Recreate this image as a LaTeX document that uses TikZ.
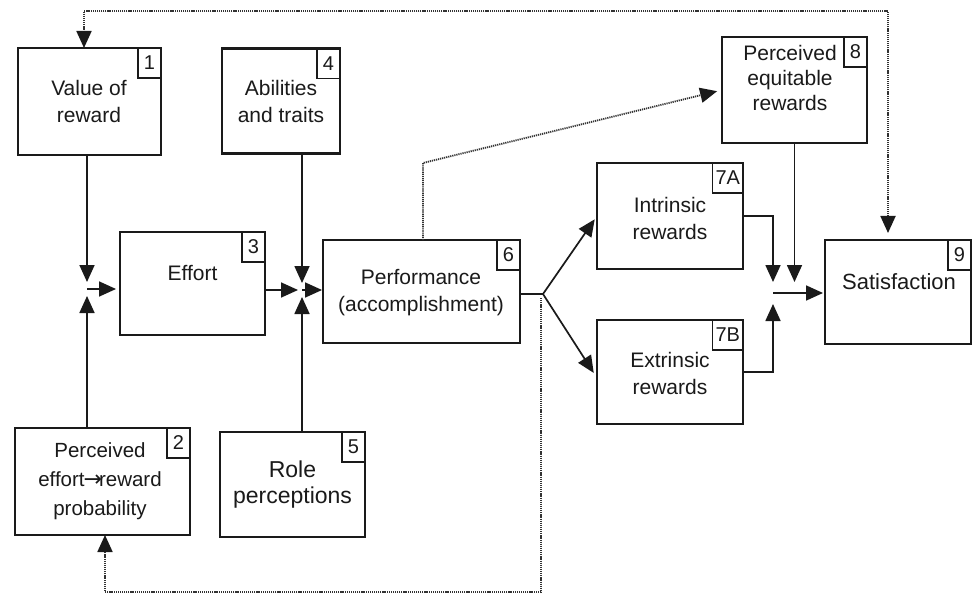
\documentclass[tikz,border=0pt]{standalone}
\usepackage{fontspec}
\setmainfont{Liberation Sans}
\newfontfamily\arrowglyph{DejaVu Sans}
\usetikzlibrary{arrows.meta}
\definecolor{ink}{HTML}{1A1A1A}
\definecolor{dotink}{HTML}{333333}
\begin{document}
\begin{tikzpicture}[x=1pt,y=-1pt,
  box/.style={draw=ink, line width=2.3pt, inner sep=0pt, outer sep=0pt},
  lbl/.style={align=center, text=ink, font=\fontsize{21}{27}\selectfont},
  num/.style={draw=ink, line width=1.7pt, anchor=north east, outer sep=0pt,
    minimum width=23pt, minimum height=30pt, inner xsep=3pt, inner ysep=0pt,
    text=ink, font=\fontsize{20}{20}\selectfont},
  tip/.style={-{Triangle[length=17pt,width=15pt,color=ink]}},
  flow/.style={draw=ink, line width=1.7pt, tip},
  link/.style={draw=ink, line width=1.7pt},
  fb/.style={draw=dotink, line width=1.8pt, dash pattern=on 1.2pt off 0.9pt},
]
\useasboundingbox (0,0) rectangle (977,596);
\fill[white] (0,0) rectangle (977,596);

% boxes
\node[box, minimum width=143pt, minimum height=107pt] (b1) at (89.5,101.5) {};
\node[box, minimum width=118pt, minimum height=105pt] (b4) at (281,101) {};
\node[box, minimum width=145pt, minimum height=103pt] (b3) at (192.5,283.5) {};
\node[box, minimum width=197pt, minimum height=103pt] (b6) at (421.5,291.5) {};
\node[box, minimum width=175pt, minimum height=107pt] (b2) at (102.5,481.5) {};
\node[box, minimum width=145pt, minimum height=105pt] (b5) at (292.5,484.5) {};
\node[box, minimum width=145pt, minimum height=106pt] (b8) at (794.5,90) {};
\node[box, minimum width=146pt, minimum height=106pt] (b7a) at (670,216) {};
\node[box, minimum width=146pt, minimum height=104pt] (b7b) at (670,372) {};
\node[box, minimum width=146pt, minimum height=104pt] (b9) at (898,292) {};

% box texts
\node[lbl] (t1) at (89,101) {Value of\\reward};
\node[lbl] (t4) at (281,101) {Abilities\\and traits};
\node[lbl] (t3) at (192.5,273) {Effort};
\node[lbl] (t6) at (421,293) {Performance\\(accomplishment)};
\node[lbl, font=\fontsize{20.5}{29}\selectfont] (t2) at (100,481)
  {Perceived\\effort\kern-1pt{\arrowglyph\fontsize{22}{22}\selectfont→}\kern-3pt reward\\probability};
\node[lbl, font=\fontsize{23}{26}\selectfont] (t5) at (292.5,485) {Role\\perceptions};
\node[lbl, font=\fontsize{21}{25}\selectfont] (t8) at (790,78) {Perceived\\equitable\\rewards};
\node[lbl] (t7a) at (670,218) {Intrinsic\\rewards};
\node[lbl] (t7b) at (670,373) {Extrinsic\\rewards};
\node[lbl, font=\fontsize{22}{26}\selectfont] (t9) at (899,282) {Satisfaction};

% number tags
\node[num] (n1) at (b1.north east) {1};
\node[num] (n2) at (b2.north east) {2};
\node[num] (n3) at (b3.north east) {3};
\node[num] (n4) at (b4.north east) {4};
\node[num] (n5) at (b5.north east) {5};
\node[num] (n6) at (b6.north east) {6};
\node[num] (n7a) at (b7a.north east) {7A};
\node[num] (n7b) at (b7b.north east) {7B};
\node[num] (n8) at (b8.north east) {8};
\node[num] (n9) at (b9.north east) {9};

% junction before effort
\coordinate (j1) at (87,289);
\coordinate (j1n) at (87,282);
\coordinate (j1s) at (87,296);
\draw[flow] (b1.south -| j1) -- (j1n);
\draw[flow] (b2.north -| j1) -- (j1s);
\draw[flow, shorten >=4pt] (j1) -- (b3.west |- j1);

% junction before performance
\coordinate (j2) at (302,290);
\coordinate (j2n) at (302,283);
\coordinate (j2s) at (302,297);
\coordinate (j2w) at (298,290);
\draw[flow] (b4.south -| j2) -- (j2n);
\draw[flow] (b5.north -| j2) -- (j2s);
\draw[flow] (b3.east |- j2) -- (j2w);
\draw[flow, shorten >=1pt] (j2) -- (b6.west |- j2);

% performance splits into rewards
\coordinate (s6) at (543,294);
\draw[link] (b6.east |- s6) -- (s6);
\draw[flow, shorten >=4pt] (s6) -- (b7a.west);
\draw[flow, shorten >=6pt] (s6) -- ([yshift=-6pt]b7b.west);

% junction before satisfaction
\coordinate (j3) at (773,293);
\coordinate (j3n) at (773,282);
\coordinate (j3s) at (773,304);
\draw[flow] (b7a.east) -| (j3n);
\draw[flow] (b7b.east) -| (j3s);
\draw[flow] (b8.south) -- (b8.south |- j3n);
\draw[flow, shorten >=2pt] (j3) -- (b9.west |- j3);

% dotted feedback loops
\coordinate (fr) at (888,11);
\coordinate (fl) at (84,11);
\draw[fb, {Triangle[length=17pt,width=15pt,color=ink]}-{Triangle[length=17pt,width=15pt,color=ink]}, shorten <=7pt]
  (b9.north -| fr) -- (fr) -- (fl) -- (b1.north -| fl);

\coordinate (p6) at (423,163);
\draw[fb, tip, shorten >=5pt] (b6.north -| p6) -- (p6) -- (b8.west);

\coordinate (q1) at (541,592);
\coordinate (q2) at (105,592);
\draw[fb, tip] ([yshift=-4pt]s6 -| q1) -- (q1) -- (q2) -- (b2.south -| q2);
\end{tikzpicture}
\end{document}
